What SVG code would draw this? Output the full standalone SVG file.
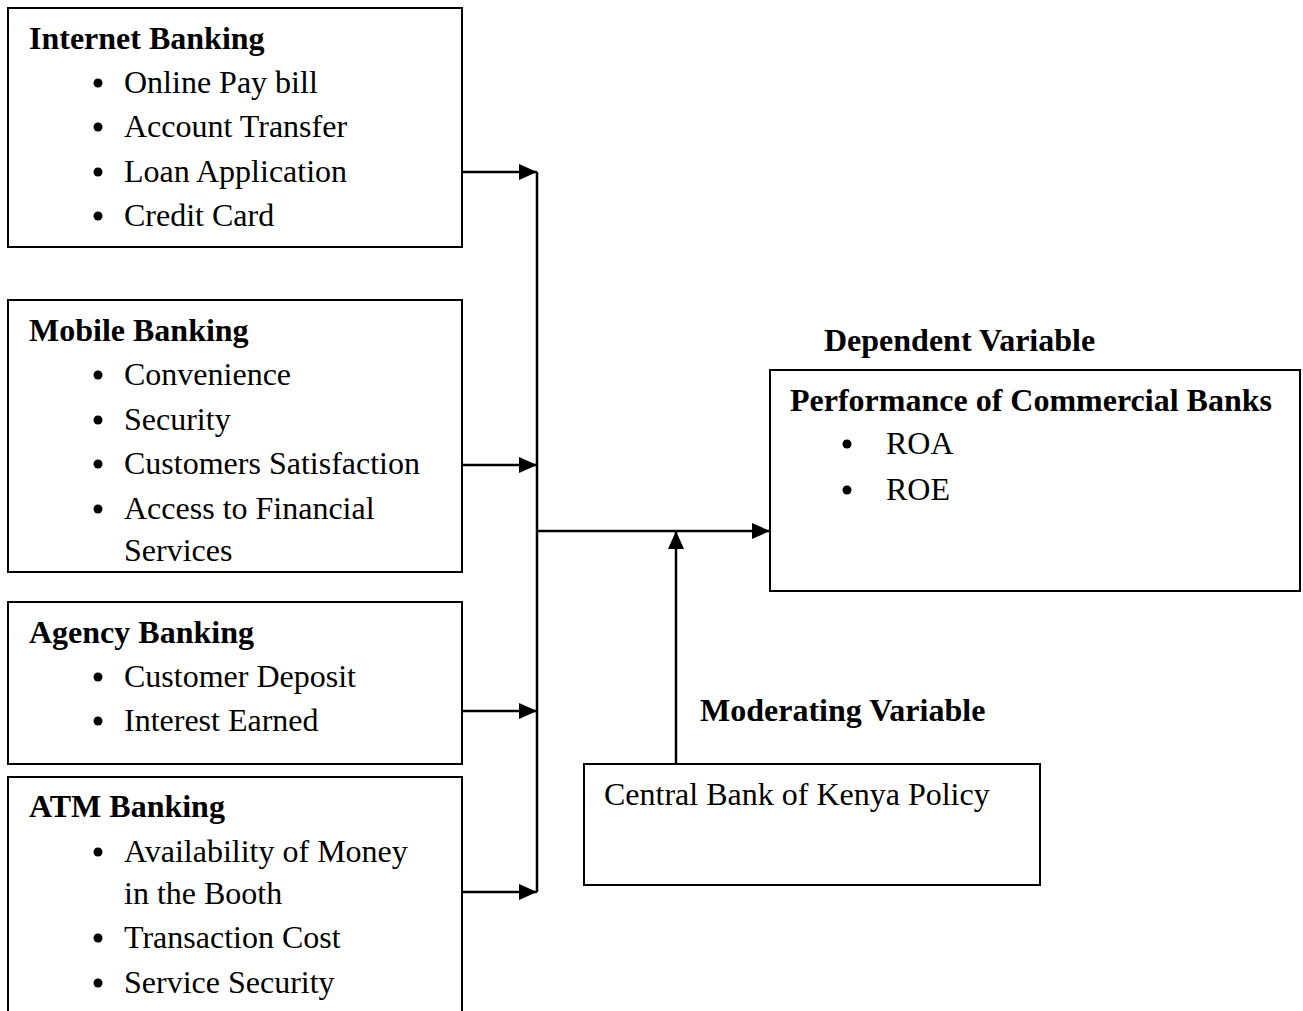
<svg xmlns="http://www.w3.org/2000/svg" width="1303" height="1011" viewBox="0 0 1303 1011">
<style>
.box{fill:#fff;stroke:#000;stroke-width:2}
.t{font-family:"Liberation Serif","Times New Roman",serif;font-size:32px;fill:#000}
.b{font-weight:bold}
.dot{fill:#000}
.ln{stroke:#000;stroke-width:2.5;fill:none}
</style>
<defs>
<marker id="ah" markerUnits="userSpaceOnUse" markerWidth="18" markerHeight="16" refX="18" refY="8" orient="auto">
<path d="M0,0 L18,8 L0,16 z" fill="#000"/>
</marker>
</defs>
<rect width="1303" height="1011" fill="#fff"/>
<g id="connectors">
<line class="ln" x1="537" y1="172" x2="537" y2="892"/>
<line class="ln" x1="462" y1="172" x2="537" y2="172" marker-end="url(#ah)"/>
<line class="ln" x1="462" y1="465" x2="537" y2="465" marker-end="url(#ah)"/>
<line class="ln" x1="462" y1="711" x2="537" y2="711" marker-end="url(#ah)"/>
<line class="ln" x1="462" y1="892" x2="537" y2="892" marker-end="url(#ah)"/>
<line class="ln" x1="537" y1="531" x2="770" y2="531" marker-end="url(#ah)"/>
<line class="ln" x1="676" y1="764" x2="676" y2="531" marker-end="url(#ah)"/>
</g>
<g id="internet">
<rect class="box" x="8" y="8" width="454" height="239"/>
<text class="t b" x="29" y="49">Internet Banking</text>
<circle class="dot" cx="98" cy="83" r="4.5"/><text class="t" x="124" y="93">Online Pay bill</text>
<circle class="dot" cx="98" cy="127" r="4.5"/><text class="t" x="124" y="137">Account Transfer</text>
<circle class="dot" cx="98" cy="172" r="4.5"/><text class="t" x="124" y="182">Loan Application</text>
<circle class="dot" cx="98" cy="216" r="4.5"/><text class="t" x="124" y="226">Credit Card</text>
</g>
<g id="mobile">
<rect class="box" x="8" y="300" width="454" height="272"/>
<text class="t b" x="29" y="341">Mobile Banking</text>
<circle class="dot" cx="98" cy="375" r="4.5"/><text class="t" x="124" y="385">Convenience</text>
<circle class="dot" cx="98" cy="420" r="4.5"/><text class="t" x="124" y="430">Security</text>
<circle class="dot" cx="98" cy="464" r="4.5"/><text class="t" x="124" y="474">Customers Satisfaction</text>
<circle class="dot" cx="98" cy="509" r="4.5"/><text class="t" x="124" y="519">Access to Financial</text>
<text class="t" x="124" y="561">Services</text>
</g>
<g id="agency">
<rect class="box" x="8" y="602" width="454" height="162"/>
<text class="t b" x="29" y="643">Agency Banking</text>
<circle class="dot" cx="98" cy="677" r="4.5"/><text class="t" x="124" y="687">Customer Deposit</text>
<circle class="dot" cx="98" cy="721" r="4.5"/><text class="t" x="124" y="731">Interest Earned</text>
</g>
<g id="atm">
<rect class="box" x="8" y="777" width="454" height="250"/>
<text class="t b" x="29" y="817">ATM Banking</text>
<circle class="dot" cx="98" cy="852" r="4.5"/><text class="t" x="124" y="862">Availability of Money</text>
<text class="t" x="124" y="904">in the Booth</text>
<circle class="dot" cx="98" cy="938" r="4.5"/><text class="t" x="124" y="948">Transaction Cost</text>
<circle class="dot" cx="98" cy="983" r="4.5"/><text class="t" x="124" y="993">Service Security</text>
</g>
<g id="dependent">
<text class="t b" x="824" y="351">Dependent Variable</text>
<rect class="box" x="770" y="370" width="530" height="221"/>
<text class="t b" x="790" y="411">Performance of Commercial Banks</text>
<circle class="dot" cx="847" cy="444" r="4.5"/><text class="t" x="886" y="454">ROA</text>
<circle class="dot" cx="847" cy="490" r="4.5"/><text class="t" x="886" y="500">ROE</text>
</g>
<g id="moderating">
<text class="t b" x="700" y="721">Moderating Variable</text>
<rect class="box" x="584" y="764" width="456" height="121"/>
<text class="t" x="604" y="805">Central Bank of Kenya Policy</text>
</g>
</svg>
